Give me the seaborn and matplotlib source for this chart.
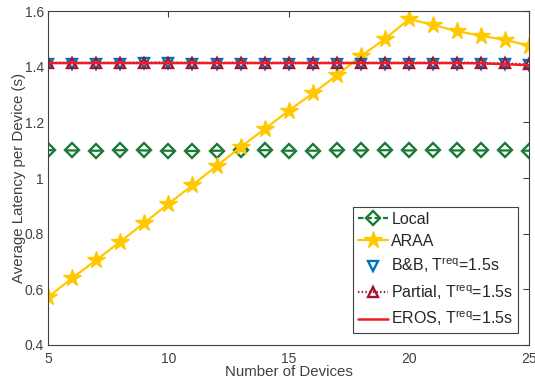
import numpy as np
import pandas as pd
import matplotlib
matplotlib.use("Agg")
import matplotlib.pyplot as plt
from matplotlib.lines import Line2D
from matplotlib.ticker import FuncFormatter
import seaborn as sns

devices = list(range(5, 26))
local = [1.100, 1.099, 1.098, 1.100, 1.099, 1.098, 1.097, 1.098, 1.099, 1.100, 1.098,
         1.098, 1.099, 1.099, 1.100, 1.099, 1.100, 1.099, 1.099, 1.099, 1.098]
araa = [0.572, 0.640, 0.705, 0.771, 0.839, 0.907, 0.974, 1.043, 1.111, 1.176, 1.242,
        1.304, 1.369, 1.438, 1.500, 1.571, 1.550, 1.527, 1.511, 1.496, 1.475]
bnb = [1.411, 1.411, 1.411, 1.411, 1.412, 1.412, 1.411, 1.411, 1.411, 1.411, 1.411,
       1.411, 1.411, 1.411, 1.411, 1.411, 1.411, 1.411, 1.411, 1.410, 1.405]
partial = [1.414, 1.414, 1.414, 1.414, 1.415, 1.415, 1.414, 1.414, 1.414, 1.414, 1.414,
           1.414, 1.414, 1.414, 1.414, 1.414, 1.414, 1.414, 1.414, 1.412, 1.408]
eros = [1.413, 1.413, 1.413, 1.413, 1.413, 1.413, 1.413, 1.413, 1.413, 1.413, 1.413,
        1.413, 1.413, 1.413, 1.413, 1.413, 1.413, 1.413, 1.412, 1.409, 1.405]
labels = ["Local", "ARAA", "B&B, T$^{\\rm req}$=1.5s", "Partial, T$^{\\rm req}$=1.5s",
          "EROS, T$^{\\rm req}$=1.5s"]
xticks = [5, 10, 15, 20, 25]
yticks = [0.4, 0.6, 0.8, 1.0, 1.2, 1.4, 1.6]

sns.set_theme(style="white")
plt.rcParams["font.family"] = ["Liberation Sans", "DejaVu Sans"]
plt.rcParams["mathtext.fontset"] = "custom"
plt.rcParams["mathtext.rm"] = "Liberation Sans"
plt.rcParams["lines.scale_dashes"] = False

c_green = "#197a36"
c_yellow = "#ffc800"
c_blue = "#0072bd"
c_dred = "#a2142f"
c_red = "#ee1c25"
txt = "#404040"

dpi = 100
fig = plt.figure(figsize=(5.35, 3.81), dpi=dpi)
ax = fig.add_axes([0.0897, 0.0945, 0.9, 0.8766])

# dash pattern so the Local line shows only through the diamonds
ax_w_px = 0.9 * 5.35 * dpi
period_pt = ax_w_px / (len(devices) - 1) * 72 / dpi
on = 8.0
dash_style = (on / 2, (on, period_pt - on))

df = pd.DataFrame({"x": devices, "local": local, "araa": araa, "bnb": bnb,
                   "partial": partial, "eros": eros})

sns.lineplot(data=df, x="x", y="local", ax=ax, color=c_green, lw=1.6,
             marker="D", markersize=7.2, markerfacecolor="none",
             markeredgecolor=c_green, markeredgewidth=1.7, linestyle=dash_style)
sns.lineplot(data=df, x="x", y="araa", ax=ax, color=c_yellow, lw=1.6,
             marker="*", markersize=13, markerfacecolor=c_yellow,
             markeredgecolor=c_yellow, markeredgewidth=1.0)
sns.lineplot(data=df, x="x", y="bnb", ax=ax, color=c_blue, lw=0,
             marker="v", markersize=7.5, markerfacecolor="none",
             markeredgecolor=c_blue, markeredgewidth=1.7)
sns.lineplot(data=df, x="x", y="partial", ax=ax, color=c_dred, lw=1.6,
             linestyle=":", marker="^", markersize=7.5, markerfacecolor="none",
             markeredgecolor=c_dred, markeredgewidth=1.7)
sns.lineplot(data=df, x="x", y="eros", ax=ax, color=c_red, lw=1.8)

ax.set_xlim(5, 25)
ax.set_ylim(0.4, 1.6)
ax.set_xticks(xticks)
ax.set_yticks(yticks)
ax.yaxis.set_major_formatter(FuncFormatter(lambda v, p: f"{v:g}"))
ax.tick_params(direction="in", length=4, width=0.8, colors="#404040",
               labelsize=10, top=True, right=True, labelcolor=txt, pad=3)
ax.tick_params(axis="x", pad=5)
for s in ax.spines.values():
    s.set_color("#404040")
    s.set_linewidth(0.8)
    s.set_visible(True)
ax.set_xlabel("Number of Devices", fontsize=10.8, color=txt, labelpad=-1)
ax.set_ylabel("Average Latency per Device (s)", fontsize=10.8, color=txt, labelpad=-1)

handles = [
    Line2D([], [], color=c_green, lw=1.6, linestyle="--", dashes=(4, 2), marker="D",
           markersize=7.2, markerfacecolor="none", markeredgecolor=c_green,
           markeredgewidth=1.7),
    Line2D([], [], color=c_yellow, lw=1.6, marker="*", markersize=13,
           markerfacecolor=c_yellow, markeredgecolor=c_yellow),
    Line2D([], [], lw=0, marker="v", markersize=7.5, markerfacecolor="none",
           markeredgecolor=c_blue, markeredgewidth=1.7),
    Line2D([], [], color=c_dred, lw=1.6, linestyle=":", marker="^", markersize=7.5,
           markerfacecolor="none", markeredgecolor=c_dred, markeredgewidth=1.7),
    Line2D([], [], color=c_red, lw=1.8),
]
leg = ax.legend(handles, labels, loc="lower right", bbox_to_anchor=(0.976, 0.036),
                fontsize=11.5, frameon=True, fancybox=False, framealpha=1,
                edgecolor="#404040", handlelength=1.9, handletextpad=0.2,
                labelspacing=0.45, borderpad=0.3, borderaxespad=0)
leg.get_frame().set_linewidth(0.8)
for t in leg.get_texts():
    t.set_color("#262626")

fig.savefig("out.png", dpi=dpi)
